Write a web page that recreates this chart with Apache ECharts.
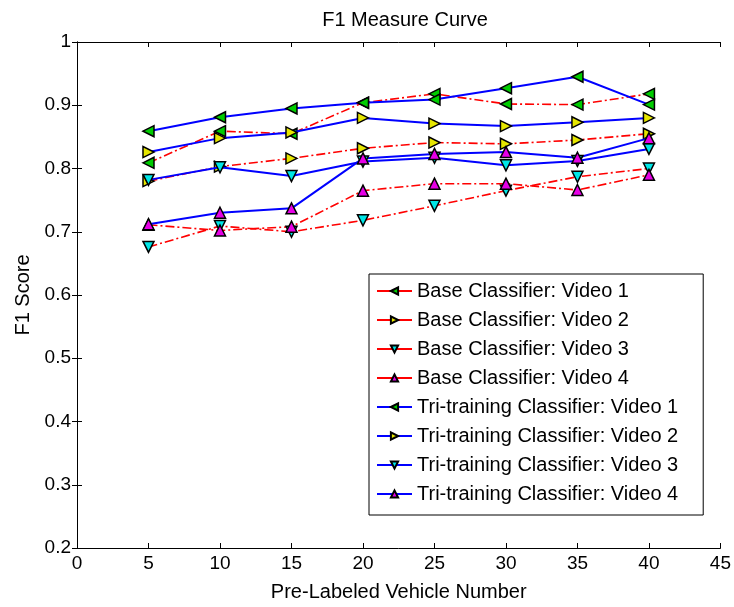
<!DOCTYPE html>
<html>
<head>
<meta charset="UTF-8">
<title>F1 Measure Curve</title>
<script type="text/javascript" src="https://cdn.jsdelivr.net/npm/echarts@6/dist/echarts.min.js"></script>
<style>
	html, body { margin: 0; padding: 0; background: #fff; }
</style>
</head>
<body>
	<div id="div" style="width:734px;height:607px"></div>

	<script type="text/javascript">
		var xs = [5, 10, 15, 20, 25, 30, 35, 40];
		var baseV1 = [0.809, 0.859, 0.855, 0.904, 0.918, 0.902, 0.901, 0.918];
		var baseV2 = [0.780, 0.803, 0.816, 0.832, 0.841, 0.839, 0.845, 0.855];
		var baseV3 = [0.676, 0.709, 0.700, 0.718, 0.741, 0.765, 0.787, 0.800];
		var baseV4 = [0.711, 0.702, 0.708, 0.765, 0.776, 0.776, 0.766, 0.790];
		var triV1 = [0.859, 0.881, 0.895, 0.904, 0.909, 0.927, 0.945, 0.901];
		var triV2 = [0.826, 0.848, 0.857, 0.880, 0.871, 0.867, 0.873, 0.880];
		var triV3 = [0.782, 0.802, 0.788, 0.811, 0.817, 0.805, 0.812, 0.831];
		var triV4 = [0.712, 0.730, 0.737, 0.816, 0.823, 0.826, 0.817, 0.848];
		var names = [
			'Base Classifier: Video 1', 'Base Classifier: Video 2',
			'Base Classifier: Video 3', 'Base Classifier: Video 4',
			'Tri-training Classifier: Video 1', 'Tri-training Classifier: Video 2',
			'Tri-training Classifier: Video 3', 'Tri-training Classifier: Video 4'
		];

		var font = 'Liberation Sans';
		// marker fill + rotation per video (left, right, down, up)
		var fills = ['#00cc00', '#e6e600', '#00e6e6', '#e600e6'];
		var rots = [90, -90, 180, 0];

		function pairs(v) {
			var out = [];
			for (var i = 0; i < xs.length; i++) out.push([xs[i], v[i]]);
			return out;
		}

		function mk(name, data, k, base) {
			return {
				name : name,
				type : 'line',
				data : pairs(data),
				symbol : 'triangle',
				symbolSize : 11,
				symbolRotate : rots[k],
				z : base ? 2 : 3,
				lineStyle : base ? { color : '#ff0000', width : 1.6, type : [9, 3, 2, 3] }
				                 : { color : '#0000ff', width : 2, type : 'solid' },
				itemStyle : { color : fills[k], borderColor : '#000', borderWidth : 1.5 },
				emphasis : { disabled : true },
				animation : false
			};
		}

		var series = [
			mk(names[0], baseV1, 0, true), mk(names[1], baseV2, 1, true),
			mk(names[2], baseV3, 2, true), mk(names[3], baseV4, 3, true),
			mk(names[4], triV1, 0, false), mk(names[5], triV2, 1, false),
			mk(names[6], triV3, 2, false), mk(names[7], triV4, 3, false)
		];

		var mychart = echarts.init(document.getElementById('div'));
		var axLine = { show : true, lineStyle : { color : '#000', width : 1 } };
		var axTick = { show : true, inside : true, length : 5, lineStyle : { color : '#000' } };
		var option = {
			backgroundColor : '#fff',
			title : {
				text : 'F1 Measure Curve',
				left : 400, top : 5,
				textAlign : 'center',
				textStyle : { fontFamily : font, fontSize : 20, fontWeight : 'normal', color : '#000' }
			},
			grid : { left : 77, right : 10, top : 42, bottom : 56 },
			legend : {
				orient : 'vertical',
				left : 369, top : 274,
				padding : [7, 25, 11, 7],
				itemWidth : 35, itemHeight : 9,
				itemGap : 9,
				backgroundColor : '#fff',
				borderColor : '#000', borderWidth : 1,
				lineStyle : { type : 'solid' },
				textStyle : { fontFamily : font, fontSize : 20, color : '#000', lineHeight : 20 },
				data : names
			},
			xAxis : [{
				type : 'value', min : 0, max : 45, interval : 5,
				name : 'Pre-Labeled Vehicle Number', nameLocation : 'middle', nameGap : 34,
				nameTextStyle : { fontFamily : font, fontSize : 20, color : '#000' },
				axisLine : axLine, axisTick : axTick,
				axisLabel : { fontFamily : font, fontSize : 19, color : '#000', margin : 6 },
				splitLine : { show : false }
			}, {
				type : 'value', min : 0, max : 45, interval : 5, position : 'top',
				axisLine : axLine, axisTick : axTick, axisLabel : { show : false },
				splitLine : { show : false }
			}],
			yAxis : [{
				type : 'value', min : 0.2, max : 1, interval : 0.1,
				name : 'F1 Score', nameLocation : 'middle', nameGap : 44,
				nameTextStyle : { fontFamily : font, fontSize : 20, color : '#000' },
				axisLine : axLine, axisTick : axTick,
				axisLabel : { fontFamily : font, fontSize : 19, color : '#000', margin : 6,
					formatter : function (v) { return String(Math.round(v * 10) / 10); } },
				splitLine : { show : false }
			}, {
				type : 'value', min : 0.2, max : 1, interval : 0.1, position : 'right',
				axisLine : axLine, axisTick : axTick, axisLabel : { show : false },
				splitLine : { show : false }
			}],
			series : series
		};
		mychart.setOption(option);
	</script>
</body>
</html>
